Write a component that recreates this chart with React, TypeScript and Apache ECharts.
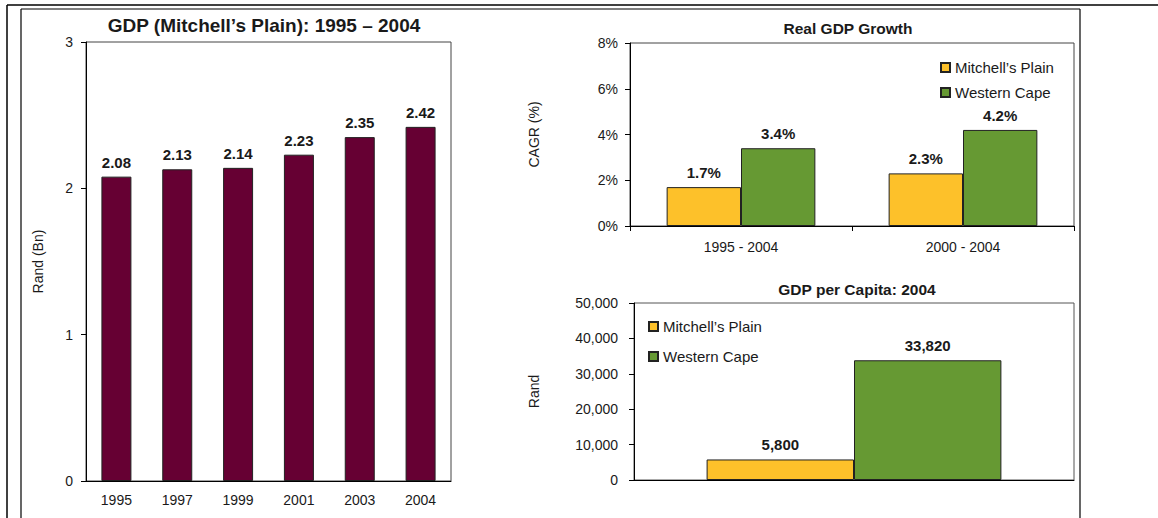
import React, { useEffect, useRef } from "react";
import * as echarts from "echarts";

const gdpYears = ["1995", "1997", "1999", "2001", "2003", "2004"];
const gdpValues = [2.08, 2.13, 2.14, 2.23, 2.35, 2.42];
const gdpTicks = [0, 1, 2, 3];

const growthPeriods = ["1995 - 2004", "2000 - 2004"];
const growthMitchells = [1.7, 2.3];
const growthWesternCape = [3.4, 4.2];

const perCapitaYear = ["2004"];
const perCapitaMitchells = [5800];
const perCapitaWesternCape = [33820];

const seriesNames = ["Mitchell\u2019s Plain", "Western Cape"];

const FONT = "'Liberation Sans', Arial, Helvetica, sans-serif";
const MAROON = "#660033";
const YELLOW = "#FDC12A";
const GREEN = "#669933";
const TXT = "#1a1a1a";

export default function App() {
  const ref = useRef<HTMLDivElement>(null);

  useEffect(() => {
    if (!ref.current) return;
    const chart = echarts.init(ref.current, undefined, { renderer: "svg" });

    const axisLine = { show: true, lineStyle: { color: "#000", width: 1 } };
    const yLabel = (margin: number) => ({ color: TXT, fontSize: 14, fontFamily: FONT, margin });
    const valueLabel = (formatter: any) => ({
      show: true,
      position: "top",
      distance: 7,
      fontSize: 15,
      fontWeight: "bold",
      fontFamily: FONT,
      color: TXT,
      formatter,
    });
    const barBorder = { borderColor: "#222", borderWidth: 1 };

    chart.setOption({
      animation: false,
      backgroundColor: "#fff",
      textStyle: { fontFamily: FONT },
      title: [
        {
          text: "GDP (Mitchell\u2019s Plain): 1995 \u2013 2004",
          left: 264,
          top: 16,
          textAlign: "center",
          padding: 0,
          textStyle: { fontSize: 19, fontWeight: "bold", color: TXT, fontFamily: FONT },
        },
        {
          text: "Real GDP Growth",
          left: 848,
          top: 20,
          textAlign: "center",
          padding: 0,
          textStyle: { fontSize: 15.5, fontWeight: "bold", color: TXT, fontFamily: FONT },
        },
        {
          text: "GDP per Capita: 2004",
          left: 857,
          top: 281,
          textAlign: "center",
          padding: 0,
          textStyle: { fontSize: 15.5, fontWeight: "bold", color: TXT, fontFamily: FONT },
        },
      ],
      legend: [
        {
          data: seriesNames,
          orient: "vertical",
          left: 940,
          top: 60,
          padding: 0,
          itemWidth: 9,
          itemHeight: 9,
          itemGap: 10,
          icon: "rect",
          selectedMode: false,
          textStyle: { fontSize: 15, color: TXT, fontFamily: FONT },
        },
        {
          data: seriesNames,
          orient: "vertical",
          left: 648,
          top: 319,
          padding: 0,
          itemWidth: 9,
          itemHeight: 9,
          itemGap: 15,
          icon: "rect",
          selectedMode: false,
          textStyle: { fontSize: 15, color: TXT, fontFamily: FONT },
        },
      ],
      grid: [
        { left: 86, top: 42, width: 365, height: 439, show: true, borderColor: "#444", borderWidth: 1, containLabel: false },
        { left: 630, top: 43, width: 444, height: 183, show: true, borderColor: "#444", borderWidth: 1, containLabel: false },
        { left: 634, top: 303, width: 440, height: 177, show: true, borderColor: "#555", borderWidth: 1, containLabel: false },
      ],
      xAxis: [
        {
          gridIndex: 0,
          type: "category",
          data: gdpYears,
          axisLine,
          axisTick: { show: false },
          axisLabel: { color: TXT, fontSize: 14, fontFamily: FONT, margin: 12 },
        },
        {
          gridIndex: 1,
          type: "category",
          data: growthPeriods,
          axisLine,
          axisTick: { show: true, length: 5, lineStyle: { color: "#000" } },
          axisLabel: { color: TXT, fontSize: 14, fontFamily: FONT, margin: 14 },
        },
        {
          gridIndex: 2,
          type: "category",
          data: perCapitaYear,
          axisLine,
          axisTick: { show: false },
          axisLabel: { show: false },
        },
      ],
      yAxis: [
        {
          gridIndex: 0,
          type: "value",
          min: gdpTicks[0],
          max: gdpTicks[gdpTicks.length - 1],
          interval: 1,
          name: "Rand (Bn)",
          nameLocation: "middle",
          nameGap: 41,
          nameTextStyle: { fontSize: 14, color: TXT, fontFamily: FONT },
          axisLine,
          axisTick: { show: true, length: 5, lineStyle: { color: "#000" } },
          axisLabel: yLabel(13),
          splitLine: { show: false },
        },
        {
          gridIndex: 1,
          type: "value",
          min: 0,
          max: 8,
          interval: 2,
          name: "CAGR (%)",
          nameLocation: "middle",
          nameGap: 89,
          nameTextStyle: { fontSize: 14, color: TXT, fontFamily: FONT },
          axisLine,
          axisTick: { show: true, length: 5, lineStyle: { color: "#000" } },
          axisLabel: { ...yLabel(12), formatter: "{value}%" },
          splitLine: { show: false },
        },
        {
          gridIndex: 2,
          type: "value",
          min: 0,
          max: 50000,
          interval: 10000,
          name: "Rand",
          nameLocation: "middle",
          nameGap: 93,
          nameTextStyle: { fontSize: 14, color: TXT, fontFamily: FONT },
          axisLine,
          axisTick: { show: true, length: 5, lineStyle: { color: "#000" } },
          axisLabel: {
            ...yLabel(16),
            formatter: (v: number) => v.toLocaleString("en-US"),
          },
          splitLine: { show: false },
        },
      ],
      series: [
        {
          type: "bar",
          name: "GDP",
          xAxisIndex: 0,
          yAxisIndex: 0,
          data: gdpValues,
          barWidth: 30,
          itemStyle: { color: MAROON, ...barBorder },
          label: valueLabel((p: any) => p.value.toFixed(2)),
        },
        {
          type: "bar",
          name: seriesNames[0],
          xAxisIndex: 1,
          yAxisIndex: 1,
          data: growthMitchells,
          barGap: "0%",
          barCategoryGap: "33%",
          itemStyle: { color: YELLOW, ...barBorder },
          label: valueLabel((p: any) => p.value.toFixed(1) + "%"),
        },
        {
          type: "bar",
          name: seriesNames[1],
          xAxisIndex: 1,
          yAxisIndex: 1,
          data: growthWesternCape,
          barGap: "0%",
          barCategoryGap: "33%",
          itemStyle: { color: GREEN, ...barBorder },
          label: valueLabel((p: any) => p.value.toFixed(1) + "%"),
        },
        {
          type: "bar",
          name: seriesNames[0],
          xAxisIndex: 2,
          yAxisIndex: 2,
          data: perCapitaMitchells,
          barGap: "0%",
          barCategoryGap: "33%",
          itemStyle: { color: YELLOW, ...barBorder },
          label: valueLabel((p: any) => p.value.toLocaleString("en-US")),
        },
        {
          type: "bar",
          name: seriesNames[1],
          xAxisIndex: 2,
          yAxisIndex: 2,
          data: perCapitaWesternCape,
          barGap: "0%",
          barCategoryGap: "33%",
          itemStyle: { color: GREEN, ...barBorder },
          label: valueLabel((p: any) => p.value.toLocaleString("en-US")),
        },
      ],
      graphic: [
        { type: "line", shape: { x1: 7, y1: 5, x2: 1158, y2: 5 }, style: { stroke: "#000", lineWidth: 1.5 }, silent: true },
        { type: "line", shape: { x1: 7, y1: 5, x2: 7, y2: 518 }, style: { stroke: "#000", lineWidth: 1.5 }, silent: true },
        { type: "line", shape: { x1: 21, y1: 9, x2: 1080, y2: 9 }, style: { stroke: "#000", lineWidth: 1.2 }, silent: true },
        { type: "line", shape: { x1: 21, y1: 9, x2: 21, y2: 518 }, style: { stroke: "#000", lineWidth: 1.2 }, silent: true },
        { type: "line", shape: { x1: 1080, y1: 9, x2: 1080, y2: 518 }, style: { stroke: "#000", lineWidth: 1.2 }, silent: true },
      ],
    });

    return () => chart.dispose();
  }, []);

  return (
    <div
      ref={ref}
      style={{ position: "absolute", left: 0, top: 0, width: 1158, height: 518 }}
    />
  );
}
